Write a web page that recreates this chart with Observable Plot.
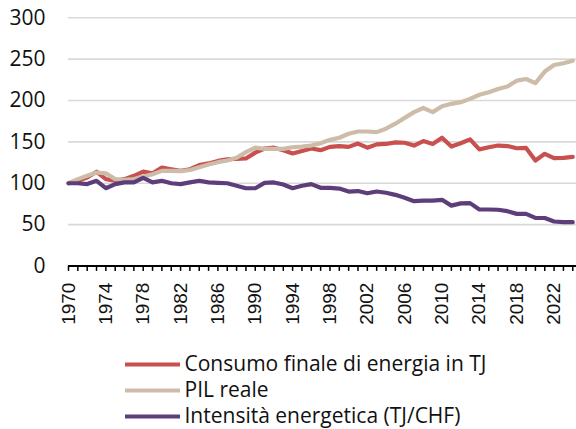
<!DOCTYPE html>
<html>
<head>
<meta charset="utf-8">
<script src="https://cdn.jsdelivr.net/npm/d3@7"></script>
<script src="https://cdn.jsdelivr.net/npm/@observablehq/plot@0.6"></script>
<style>
  html, body { margin: 0; padding: 0; background: #fff; }
  svg { display: block; }
</style>
</head>
<body>
<div id="kz-plot"></div>
<div id="kz-key"></div>
<script>
const years = d3.range(1970, 2025);
const consumo = [100,103,107,114,105,103,105,109,114,112,119,117,115,117,122,124,127,129,129.5,130,137,142,143,140,136,139,142,140,144,145,144,148,143,147,147.5,149.5,149,145.6,151,147.6,155,144.4,148.4,153,141,143.5,145.6,145,142.3,142.7,127.5,135.6,130.3,130.7,132];
const pil = [100,105,109,113,112,105,104,105,108,111,115,115,114.6,116,119.4,122.7,125.5,127.5,130.8,137.6,143,141.6,141.6,141.6,143.5,144.4,145.6,148.4,152.5,155,159.8,162.6,162.6,161.8,166,172,179,186,191,186,193,196,198,202,207,210,214,217,224,226,221,235,243,245,248];
const intensita = [100,100,99,103,94,99,101,101,106.6,101,103,100,99,101,103,101,100.5,100,97,94,94,100.5,101,98.5,94,97,99,94.5,94.5,93.6,90,90.6,88,90,88.5,86,82.4,78.3,79,79,80,73,75.7,76,68.3,68.3,68,66.3,63,63,58.2,58,53.8,53,53];
const yTicks = [0,50,100,150,200,250,300];
const xLabelTicks = d3.range(1970, 2023, 4);
const seriesNames = ["Consumo finale di energia in TJ", "PIL reale", "Intensità energetica (TJ/CHF)"];
const colors = ["#c8504e", "#cdbca8", "#5d3e7b"];
const seriesValues = [consumo, pil, intensita];

const lineMarks = seriesValues.map((vals, i) =>
  Plot.line(vals.map((v, j) => ({year: years[j], value: v})), {x: "year", y: "value", stroke: colors[i], strokeWidth: 4.2})
);

const chart = Plot.plot({
  width: 576, height: 340, marginLeft: 68, marginRight: 0, marginTop: 17.3, marginBottom: 74.5,
  x: {type: "linear", domain: [1970, 2024.4], nice: false, axis: null},
  y: {domain: [0, 300], axis: null},
  style: {background: "#fff"},
  marks: [
    Plot.gridY(yTicks.filter(d => d > 0), {stroke: "#d9d9d9", strokeOpacity: 1, strokeWidth: 1.6}),
    Plot.axisY({ticks: yTicks, tickSize: 0, tickPadding: 23, fontSize: 21, fontFamily: "Open Sans", fill: "#111", label: null}),
    Plot.ruleX(years, {x: d => d, y1: 0, y2: -6.5, stroke: "#000", strokeWidth: 1.5}),
    Plot.text(xLabelTicks, {x: d => d, y: -20, text: d => String(d), rotate: -90, textAnchor: "end", lineAnchor: "middle", fontSize: 19, fontFamily: "Liberation Sans", fill: "#111"}),
    Plot.ruleY([0], {stroke: "#000", strokeWidth: 2}),
    ...lineMarks
  ]
});
document.getElementById("kz-plot").appendChild(chart);

// legend below the chart, drawn as its own small Plot
const keyRows = seriesNames.map((name, i) => ({name, color: colors[i]}));
const key = Plot.plot({
  width: 576, height: 89, marginLeft: 125, marginRight: 396, marginTop: 11, marginBottom: 0,
  x: {domain: [0, 1], axis: null},
  y: {type: "point", domain: seriesNames, padding: 0.5, axis: null},
  style: {background: "#fff"},
  marks: [
    Plot.ruleY(keyRows, {y: "name", x1: 0, x2: 1, stroke: d => d.color, strokeWidth: 4}),
    Plot.text(keyRows, {y: "name", x: 1, text: "name", textAnchor: "start", dx: 4, fontSize: 21, fontFamily: "Open Sans", fill: "#111"})
  ]
});
document.getElementById("kz-key").appendChild(key);
</script>
</body>
</html>
